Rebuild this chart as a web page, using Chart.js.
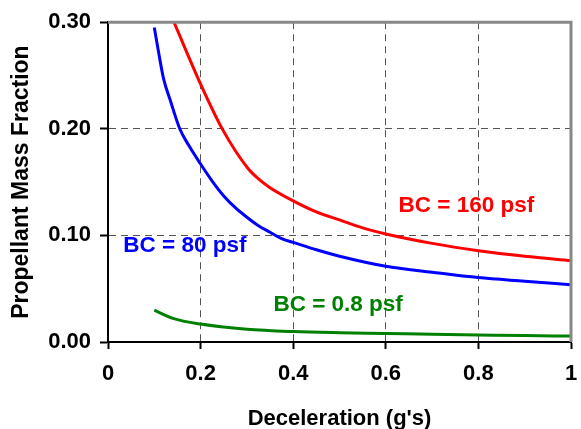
<!DOCTYPE html>
<html>
<head>
<meta charset="utf-8">
<script src="https://cdn.jsdelivr.net/npm/chart.js@4/dist/chart.umd.min.js"></script>
<style>
  html, body { margin: 0; padding: 0; background: #fff; }
  #wrap { width: 581px; height: 429px; position: relative; }
</style>
</head>
<body>
<div id="wrap"><canvas id="massChart"></canvas></div>
<script>
// Propellant mass fraction vs deceleration, three ballistic coefficients
const decel160 = [0.1425, 0.2, 0.248, 0.302, 0.325, 0.35, 0.4, 0.45, 0.5, 0.55, 0.6, 0.7, 0.8, 0.9, 1.0];
const frac160  = [0.300, 0.242, 0.199, 0.163, 0.153, 0.1448, 0.1324, 0.122, 0.1145, 0.107, 0.1013, 0.0925, 0.0857, 0.0805, 0.0764];

const decel80 = [0.1, 0.11, 0.12, 0.135, 0.155, 0.175, 0.2, 0.225, 0.25, 0.275, 0.3, 0.325, 0.35, 0.375, 0.4, 0.45, 0.5, 0.6, 0.7, 0.8, 0.9, 1.0];
const frac80  = [0.295, 0.270, 0.247, 0.226, 0.200, 0.184, 0.167, 0.151, 0.137, 0.126, 0.117, 0.109, 0.103, 0.097, 0.0935, 0.0865, 0.0805, 0.0711, 0.0655, 0.0604, 0.057, 0.0537];

const decel08 = [0.1, 0.14, 0.2, 0.3, 0.4, 0.5, 0.6, 0.7, 0.8, 0.9, 1.0];
const frac08  = [0.0298, 0.0222, 0.0168, 0.012, 0.0098, 0.0087, 0.0080, 0.0072, 0.0066, 0.0060, 0.0056];

const xTicks = [0, 0.2, 0.4, 0.6, 0.8, 1];
const yTicks = [0, 0.1, 0.2, 0.3];

// curve labels, placed in data units
const curveLabels = [
  { text: "BC = 160 psf", x: 0.774, y: 0.1277, color: "#ff0000" },
  { text: "BC = 80 psf",  x: 0.166, y: 0.0899, color: "#0000ff" },
  { text: "BC = 0.8 psf", x: 0.497, y: 0.0345, color: "#008000" },
];

const FONT = "'Liberation Sans', Arial, sans-serif";

function pares(xs, ys) {
  return xs.map((x, i) => ({ x, y: ys[i] }));
}

function serie(data, cor) {
  return {
    data,
    borderColor: cor,
    backgroundColor: cor,
    borderWidth: 3,
    pointRadius: 0,
    cubicInterpolationMode: "monotone",
    fill: false,
  };
}

// gray frame on top and right, curve labels on top of everything
const molduraPlugin = {
  id: "moldura",
  afterDatasetsDraw(chart) {
    const { ctx, chartArea: a, scales } = chart;
    ctx.save();
    ctx.strokeStyle = "#888888";
    ctx.lineWidth = 3;
    ctx.beginPath();
    ctx.moveTo(a.left, a.top);
    ctx.lineTo(a.right, a.top);
    ctx.lineTo(a.right, a.bottom);
    ctx.stroke();

    ctx.font = "bold 22.5px " + FONT;
    ctx.textAlign = "center";
    ctx.textBaseline = "middle";
    curveLabels.forEach((l) => {
      ctx.fillStyle = l.color;
      ctx.fillText(l.text, scales.x.getPixelForValue(l.x), scales.y.getPixelForValue(l.y));
    });
    ctx.restore();
  },
};

const gridCor = (ctx, ultimo) =>
  ctx.tick && (ctx.tick.value === 0 || Math.abs(ctx.tick.value - ultimo) < 1e-9) ? "rgba(0,0,0,0)" : "#555555";

new Chart(document.getElementById("massChart"), {
  type: "line",
  data: {
    datasets: [
      serie(pares(decel160, frac160), "#ff0000"),
      serie(pares(decel80, frac80), "#0000ff"),
      serie(pares(decel08, frac08), "#008000"),
    ],
  },
  options: {
    responsive: true,
    maintainAspectRatio: false,
    animation: false,
    layout: { padding: { top: 20, right: 10, left: 0, bottom: 0 } },
    plugins: { legend: { display: false }, tooltip: { enabled: false } },
    scales: {
      x: {
        type: "linear",
        min: 0,
        max: 1,
        afterBuildTicks: (s) => { s.ticks = xTicks.map((v) => ({ value: v })); },
        afterFit: (s) => {
          s.height = 87;
          s.paddingLeft = 0;
          s.paddingRight = 0;
        },
        ticks: {
          color: "#000",
          padding: 12,
          font: { family: FONT, size: 22, weight: "bold" },
          callback: (v) => String(v),
        },
        grid: {
          color: (c) => gridCor(c, 1),
          lineWidth: 1,
          tickLength: 7,
          tickColor: "#000",
          tickWidth: 2,
        },
        border: { color: "#000", width: 2, dash: [7, 5] },
        title: {
          display: true,
          text: "Deceleration (g's)",
          color: "#000",
          font: { family: FONT, size: 22, weight: "bold", lineHeight: 1 },
          padding: { top: 0, bottom: -1 },
        },
      },
      y: {
        type: "linear",
        min: 0,
        max: 0.3,
        afterBuildTicks: (s) => { s.ticks = yTicks.map((v) => ({ value: v })); },
        afterFit: (s) => { s.width = 108; },
        ticks: {
          color: "#000",
          padding: 9,
          font: { family: FONT, size: 22, weight: "bold" },
          callback: (v) => Number(v).toFixed(2),
        },
        grid: {
          color: (c) => gridCor(c, 0.3),
          lineWidth: 1,
          tickLength: 8,
          tickColor: "#000",
          tickWidth: 2,
        },
        border: { color: "#000", width: 2, dash: [7, 5] },
        title: {
          display: true,
          text: "Propellant Mass Fraction",
          color: "#000",
          font: { family: FONT, size: 23, weight: "bold", lineHeight: 1 },
          padding: { top: 10, bottom: 0 },
        },
      },
    },
  },
  plugins: [molduraPlugin],
});
</script>
</body>
</html>
